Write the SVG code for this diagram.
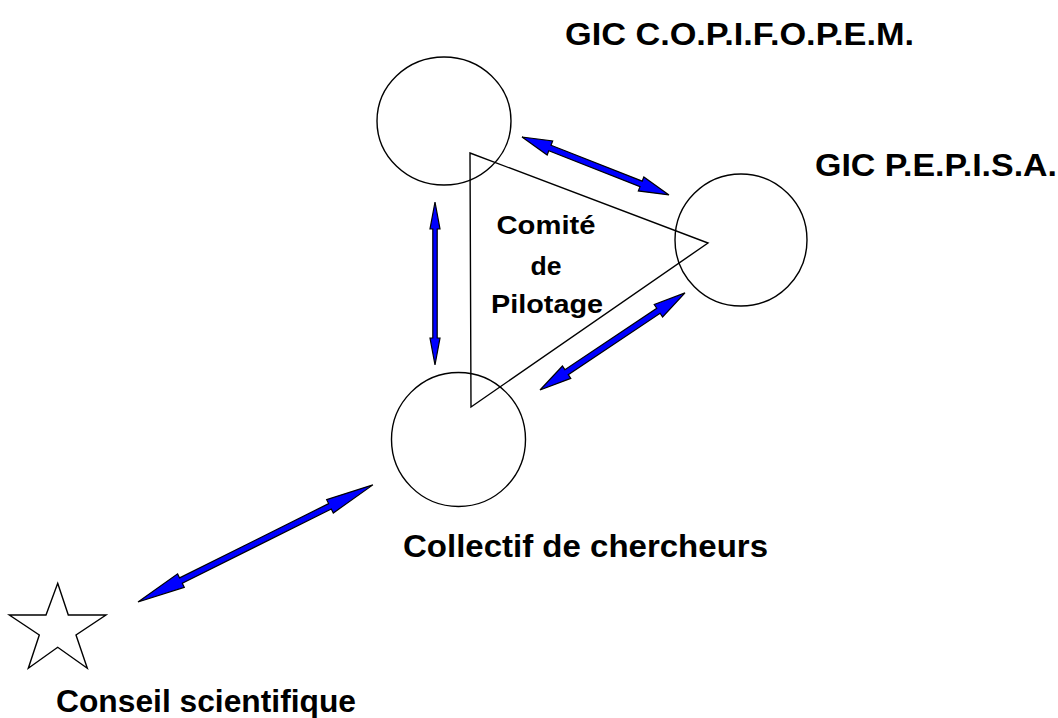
<svg xmlns="http://www.w3.org/2000/svg" width="1058" height="718" viewBox="0 0 1058 718">
<style>
.node{fill:none;stroke:#000;stroke-width:1.4}
.arrow{fill:#0000ff;stroke:#000;stroke-width:1.2;stroke-linejoin:miter}
.lbl{font-family:"Liberation Sans",Arial,sans-serif;font-weight:bold;fill:#000}
.big{font-size:31px}
.mid{font-size:25px}
</style>
<rect width="1058" height="718" fill="#fff"/>
<g id="comite">
<polygon class="node" points="470,153 708,243 471,407"/>
<text class="lbl mid" x="546" y="234" text-anchor="middle" textLength="99" lengthAdjust="spacingAndGlyphs">Comité</text>
<text class="lbl mid" x="546" y="275" text-anchor="middle" textLength="31" lengthAdjust="spacingAndGlyphs">de</text>
<text class="lbl mid" x="547" y="313" text-anchor="middle" textLength="112" lengthAdjust="spacingAndGlyphs">Pilotage</text>
</g>
<g id="copifopem">
<ellipse class="node" cx="444" cy="121" rx="67" ry="64"/>
<text class="lbl big" x="565" y="45" textLength="349" lengthAdjust="spacingAndGlyphs">GIC C.O.P.I.F.O.P.E.M.</text>
</g>
<g id="pepisa">
<circle class="node" cx="741" cy="240" r="66"/>
<text class="lbl big" x="815" y="176" textLength="242" lengthAdjust="spacingAndGlyphs">GIC P.E.P.I.S.A.</text>
</g>
<g id="collectif">
<circle class="node" cx="458.5" cy="439.5" r="67"/>
<text class="lbl big" x="403" y="557" textLength="365" lengthAdjust="spacingAndGlyphs">Collectif de chercheurs</text>
</g>
<g id="conseil">
<polygon class="node" points="57.7,583.3 68.3,615 106,615 76,635 87.3,668.3 57.7,647.3 28.3,668.3 39.3,635 9.3,615 46,615"/>
<text class="lbl big" x="56" y="712" textLength="300" lengthAdjust="spacingAndGlyphs">Conseil scientifique</text>
</g>
<g id="connectors">
<polygon class="arrow" transform="translate(522,137) rotate(21.5)" points="0,0 30,-7.5 30,-3 128,-3 128,-7.5 158,0 128,7.5 128,3 30,3 30,7.5"/>
<polygon class="arrow" transform="translate(435,202) rotate(90)" points="0,0 27,-5 27,-2.2 136,-2.2 136,-5 163,0 136,5 136,2.2 27,2.2 27,5"/>
<polygon class="arrow" transform="translate(540,390) rotate(-33.8)" points="0,0 32,-7.5 32,-3 142.5,-3 142.5,-7.5 174.5,0 142.5,7.5 142.5,3 32,3 32,7.5"/>
<polygon class="arrow" transform="translate(138,602) rotate(-26.5)" points="0,0 48,-7.5 48,-3 214.5,-3 214.5,-7.5 262.5,0 214.5,7.5 214.5,3 48,3 48,7.5"/>
</g>
</svg>
